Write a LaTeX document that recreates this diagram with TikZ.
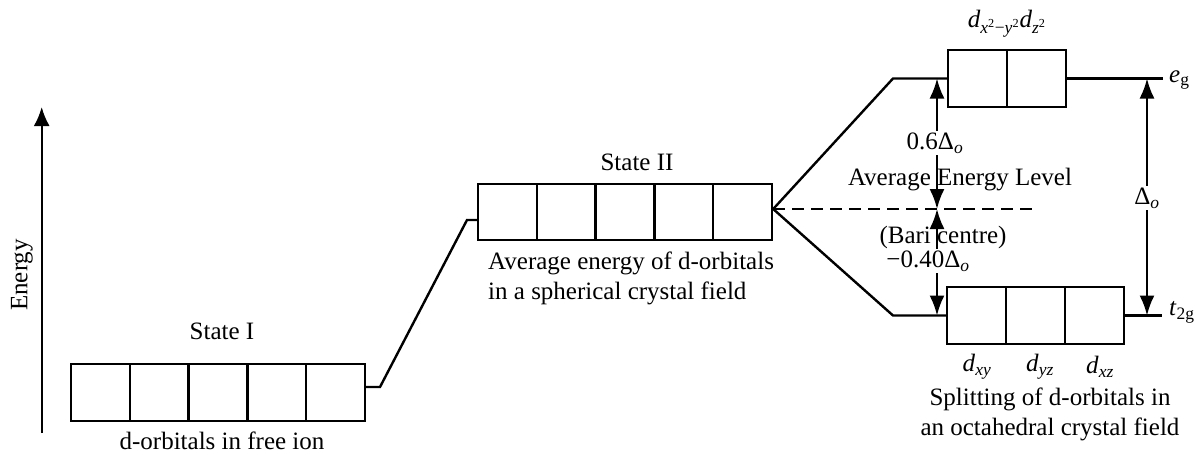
\documentclass[tikz,border=0pt]{standalone}
\usepackage{fontspec}
\setmainfont{Liberation Serif}
\usetikzlibrary{arrows.meta}
\begin{document}
\begin{tikzpicture}[x=1pt,y=-1pt,
  every node/.style={font=\fontsize{25}{30}\selectfont, inner sep=1pt},
  cell/.style={draw, line width=2.4pt, minimum width=58.8pt, minimum height=57pt, inner sep=0pt},
  lvl/.style={line width=2.4pt},
  dim/.style={line width=2.2pt, {Latex[length=20pt,width=15pt]}-{Latex[length=20pt,width=15pt]}},
  lbl/.style={fill=white, inner sep=2pt}]
\useasboundingbox (0,0) rectangle (1197,455);
% Energy axis
\coordinate (ea) at (41.7,433);
\coordinate (eb) at (41.7,107);
\draw[line width=2.2pt, -{Latex[length=19pt,width=16pt]}] (ea) -- (eb);
\node[rotate=90] (energy) at (22,275) {Energy};
% State I
\foreach \i in {1,...,5} {\node[cell] (a\i) at ({71+29.4+58.8*(\i-1)},392.5) {};}
\node (st1) at (222,331) {State I};
\node (fi) at (222,441) {d-orbitals in free ion};
% State II
\foreach \i in {1,...,5} {\node[cell, minimum height=56pt] (b\i) at ({478+29.4+58.8*(\i-1)},212) {};}
\node (st2) at (637,162) {State II};
\node[align=left, anchor=west] (avg) at (487,278) {Average energy of d-orbitals\\in a spherical crystal field};
% eg
\foreach \i in {1,2} {\node[cell, minimum width=59pt] (e\i) at ({948+29.5+59*(\i-1)},78.5) {};}
% t2g
\foreach \i in {1,2,3} {\node[cell, minimum width=59pt] (t\i) at ({947+29.5+59*(\i-1)},315.5) {};}
% connectors
\coordinate (k1) at (380,387);
\coordinate (k2) at (467,220);
\coordinate (k3) at (893,78.5);
\coordinate (k4) at (893,315.5);
\coordinate (bc) at (1032,209);
\coordinate (egend) at (1163,78.5);
\coordinate (tend) at (1162,315.5);
\draw[lvl] ([yshift=5.5pt]a5.east) -- (k1) -- (k2) -- ([yshift=-8pt]b1.west);
\draw[lvl] ([yshift=3pt]b5.east) -- (k3) -- (e1.west);
\draw[lvl] ([yshift=3pt]b5.east) -- (k4) -- (t1.west);
\draw[lvl] (e2.east) -- (egend);
\draw[lvl] (t3.east) -- (tend);
\draw[line width=2.2pt, dash pattern=on 12pt off 7pt] ([yshift=3pt]b5.east) -- (bc);
% labels on levels
\node (eglab) at (1007,24) {\textit{d}\textsubscript{\textit{x}\textsuperscript{2}−\textit{y}\textsuperscript{2}}\textit{d}\textsubscript{\textit{z}\textsuperscript{2}}};
\node[anchor=west] (eg) at (1168,80) {\textit{e}\textsubscript{g}};
\node[anchor=west] (tg) at (1168,312) {\textit{t}\textsubscript{2g}};
\node (dxy) at (977,367) {\textit{d}\textsubscript{\textit{xy}}};
\node (dyz) at (1040,367) {\textit{d}\textsubscript{\textit{yz}}};
\node (dxz) at (1100,367) {\textit{d}\textsubscript{\textit{xz}}};
\node[align=center] (split) at (1050,414) {Splitting of d-orbitals in\\an octahedral crystal field};
% dimension arrows
\coordinate (u1) at (937,78.5);
\coordinate (u2) at (937,209);
\coordinate (u3) at (937,315.5);
\coordinate (v1) at (1147,78.5);
\coordinate (v2) at (1147,315.5);
\draw[dim] (u1) -- (u2);
\draw[dim] (u2) -- (u3);
\draw[dim] (v1) -- (v2);
\node[lbl] (p6) at (935,143) {0.6Δ\textsubscript{\textit{o}}};
\node (ael) at (960,180) {Average Energy Level};
\node (bari) at (943,237) {(Bari centre)};
\node[lbl] (m4) at (928,261) {−0.40Δ\textsubscript{\textit{o}}};
\node[lbl] (dlo) at (1147,198) {Δ\textsubscript{\textit{o}}};
\end{tikzpicture}
\end{document}
